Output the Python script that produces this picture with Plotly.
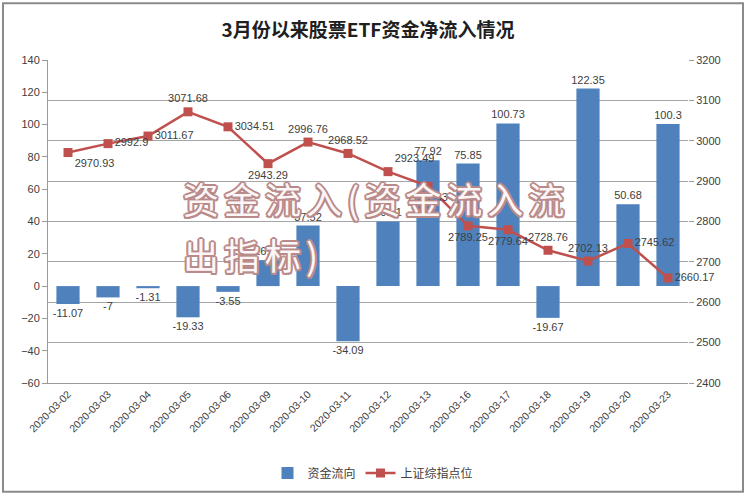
import plotly.graph_objects as go

dates = ["2020-03-02", "2020-03-03", "2020-03-04", "2020-03-05", "2020-03-06",
         "2020-03-09", "2020-03-10", "2020-03-11", "2020-03-12", "2020-03-13",
         "2020-03-16", "2020-03-17", "2020-03-18", "2020-03-19", "2020-03-20",
         "2020-03-23"]
flows = [-11.07, -7, -1.31, -19.33, -3.55, 16.09, 37.52, -34.09, 40.01, 77.92,
         75.85, 100.73, -19.67, 122.35, 50.68, 100.3]
index_pts = [2970.93, 2992.9, 3011.67, 3071.68, 3034.51, 2943.29, 2996.76, 2968.52,
             2923.49, 2887.43, 2789.25, 2779.64, 2728.76, 2702.13, 2745.62, 2660.17]
line_label_pos = ["bottom right", "middle right", "middle right", "top center",
                  "middle right", "bottom center", "top center", "top center",
                  "top right", "bottom center", "bottom center", "bottom center",
                  "top center", "top center", "middle right", "middle right"]

FONT = "Liberation Sans, Arial, Noto Sans CJK SC, sans-serif"
TXT = "#404040"

fig = go.Figure()
fig.add_trace(go.Bar(
    x=dates, y=flows, name="资金流向",
    marker=dict(color="#4f81bd", line=dict(width=0)),
    text=[f"{v:g}" for v in flows], textposition="outside",
    textfont=dict(size=11, color=TXT, family=FONT),
    constraintext="none",
    cliponaxis=False, yaxis="y",
))
fig.add_trace(go.Scatter(
    x=dates, y=index_pts, name="上证综指点位", yaxis="y2",
    mode="lines+markers+text",
    line=dict(color="#c0504d", width=2.5),
    marker=dict(symbol="square", size=9, color="#c0504d"),
    text=[f"{v:g}" for v in index_pts], textposition=line_label_pos,
    textfont=dict(size=11, color=TXT, family=FONT),
    cliponaxis=False,
))

shadow = ", ".join(f"{dx}px {dy}px 0 #b98a8a" for dx, dy in
                   [(2, 0), (-2, 0), (0, 2), (0, -2), (1.5, 1.5), (-1.5, -1.5), (1.5, -1.5), (-1.5, 1.5)])
for txt, yy in [("资金流入(资金流入流", 198), ("出指标)", 255)]:
    fig.add_annotation(
        text=f"<span style='letter-spacing:5px'>{txt}</span>",
        xref="paper", yref="paper",
        x=(181 - 48) / 640, y=(384 - yy) / 324, xanchor="left", yanchor="middle",
        showarrow=False,
        font=dict(size=36, color="#fcf6f6", family="Noto Sans CJK SC", shadow=shadow),
    )

fig.add_shape(type="rect", xref="paper", yref="paper",
              x0=(3 - 48) / 640, x1=(743 - 48) / 640,
              y0=(384 - 493) / 324, y1=(384 - 3) / 324,
              line=dict(color="#8a8a8a", width=2), layer="below")

fig.update_layout(
    width=748, height=498,
    margin=dict(l=48, r=60, t=60, b=114),
    paper_bgcolor="white", plot_bgcolor="white",
    font=dict(family=FONT, size=11, color=TXT),
    title=dict(text="<b>3月份以来股票ETF资金净流入情况</b>", x=0.5, xref="paper",
               y=(498 - 30) / 498, yanchor="middle",
               font=dict(size=19, color="#202020", family="Noto Sans CJK SC")),
    bargap=0.42,
    showlegend=True,
    legend=dict(orientation="h", x=(373 - 48) / 640, xanchor="center",
                y=(384 - 473) / 324, yanchor="middle",
                font=dict(size=12, color=TXT, family="Noto Sans CJK SC")),
    xaxis=dict(type="category", range=[-0.5, len(dates) - 0.5], autorange=False,
               tickangle=-45, showline=True, linecolor="#9a9a9a",
               ticks="", showgrid=False, tickfont=dict(size=10.5, color=TXT)),
    yaxis=dict(range=[-60, 140], dtick=20, showgrid=False, zeroline=False,
               showline=True, linecolor="#9a9a9a", ticks="outside", ticklen=5,
               tickcolor="#9a9a9a", tickfont=dict(size=11, color=TXT)),
    yaxis2=dict(range=[2400, 3200], dtick=100, overlaying="y", side="right",
                showgrid=True, gridcolor="#a6a6a6", gridwidth=1, zeroline=False,
                showline=False, ticks="outside", ticklen=5, tickcolor="#9a9a9a",
                tickfont=dict(size=11, color=TXT)),
)

fig.write_html("out.html")
